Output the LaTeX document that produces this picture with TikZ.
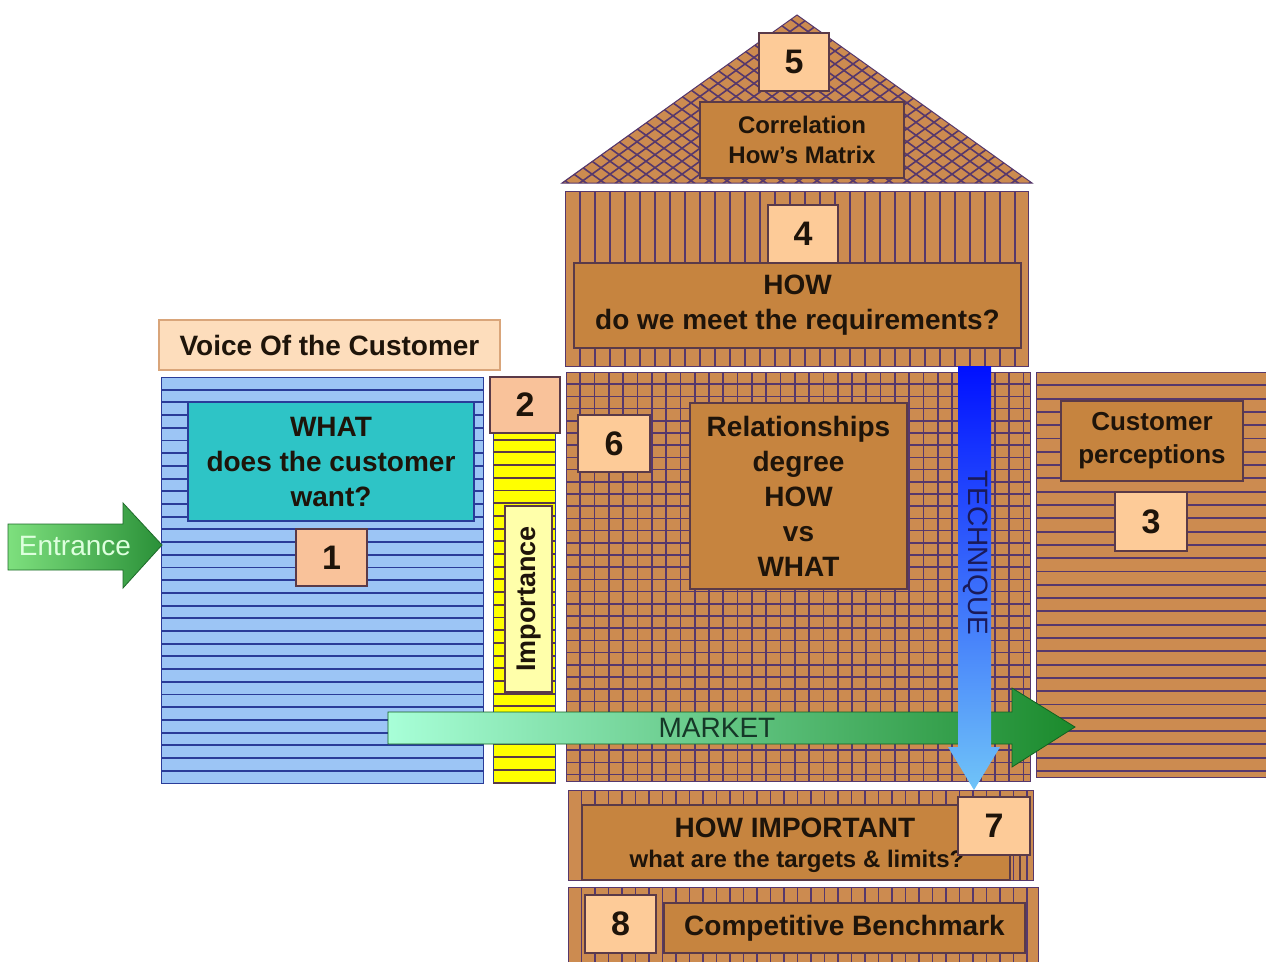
\documentclass[tikz,border=0pt]{standalone}
\usepackage{fontspec}
\setmainfont{Liberation Sans}
\definecolor{brn}{HTML}{CC8B50}
\definecolor{brnbx}{HTML}{C6843F}
\definecolor{pline}{HTML}{56386C}
\definecolor{boxline}{HTML}{5A3A48}
\definecolor{peach}{HTML}{FDCB98}
\definecolor{salmon}{HTML}{F9C29A}
\definecolor{vocfill}{HTML}{FDDDBC}
\definecolor{vocline}{HTML}{D9A57A}
\definecolor{bluef}{HTML}{9CC5F5}
\definecolor{bline}{HTML}{2A3C99}
\definecolor{tealf}{HTML}{2EC4C6}
\definecolor{yel}{HTML}{FFFF00}
\definecolor{ltyel}{HTML}{FFFFAA}
\definecolor{txt}{HTML}{1E140A}
\definecolor{entL}{HTML}{7EE07E}
\definecolor{entR}{HTML}{2A9038}
\definecolor{entD}{HTML}{1E6B2A}
\definecolor{entT}{HTML}{DDFFDD}
\definecolor{mkL}{HTML}{A8FFD8}
\definecolor{mkR}{HTML}{1B8A2C}
\definecolor{mkT}{HTML}{163828}
\definecolor{tcT}{HTML}{1A1A5A}
\definecolor{tcTop}{HTML}{0010FF}
\definecolor{tcBot}{HTML}{70C4F8}
\newcommand{\lblfont}{\fontsize{28}{35}\selectfont\bfseries}
\newcommand{\corrfont}{\fontsize{24}{30}\selectfont\bfseries}
\newcommand{\numfont}{\fontsize{34}{36}\selectfont\bfseries}
\newcommand{\arrfont}{\fontsize{28}{30}\selectfont}
\begin{document}
\begin{tikzpicture}[x=1pt,y=-1pt,
  block/.style={draw=pline, line width=1pt, fill=brn, inner sep=0pt},
  brnbox/.style={draw=boxline, line width=1.5pt, fill=brnbx, inner sep=0pt, align=center, font=\lblfont, text=txt},
  numbox/.style={draw=boxline, line width=1.2pt, fill=peach, inner sep=0pt, font=\numfont, text=txt},
  stripe/.style={draw=pline, line width=1.9pt},
  bstripe/.style={draw=bline, line width=1.9pt}]
\useasboundingbox (0,0) rectangle (1266,961);
\fill[white] (0,0) rectangle (1266,961);

% ---------- roof (5)
\fill[brn] (562,183) -- (797,15) -- (1032,183) -- cycle;
\begin{scope}
  \clip (562,183) -- (797,15) -- (1032,183) -- cycle;
  \foreach \c in {300,318,...,1040} \draw[stripe, line width=1.6pt] (\c,190) -- ++(320,-230.4);
  \foreach \c in {560,578,...,1300} \draw[stripe, line width=1.6pt] (\c,190) -- ++(-320,-230.4);
\end{scope}
\draw[pline, line width=1pt] (562,183) -- (797,15) -- (1032,183) -- cycle;
\node[numbox, minimum width=70, minimum height=58] (n5) at (794,62) {5};
\node[brnbox, minimum width=204, minimum height=76, font=\corrfont] (corr) at (802,140) {Correlation\\How's Matrix};

% ---------- HOW block (4)
\node[block, minimum width=463, minimum height=175] (howblk) at (796.5,278.5) {};
\begin{scope}
  \clip (565,191) rectangle (1028,366);
  \foreach \k in {1,...,31} \draw[stripe] ({565+\k*15},191) -- ({565+\k*15},366);
\end{scope}
\node[numbox, minimum width=70, minimum height=58] (n4) at (803,234) {4};
\node[brnbox, minimum width=447, minimum height=85] (how) at (797.5,305.5) {HOW\\do we meet the requirements?};

% ---------- Voice of the customer (1)
\node[draw=vocline, line width=1.2pt, fill=vocfill, minimum width=341, minimum height=50, font=\lblfont, text=txt] (voc) at (329.5,345) {Voice Of the Customer};
\node[draw=bline, line width=1pt, fill=bluef, minimum width=322, minimum height=406, inner sep=0pt] (whatblk) at (322,580) {};
\begin{scope}
  \clip (161,377) rectangle (483,783);
  \foreach \k in {1,...,31} \draw[bstripe] (161,{377+\k*12.7}) -- (483,{377+\k*12.7});
\end{scope}
\node[draw=bline, line width=1.2pt, fill=tealf, minimum width=286, minimum height=119, inner sep=0pt, align=center, font=\lblfont, text=txt] (what) at (331,461.5) {WHAT\\does the customer\\want?};
\node[numbox, fill=salmon, minimum width=71, minimum height=57] (n1) at (331.5,557.5) {1};

% ---------- Importance (2)
\node[draw=bline, line width=1pt, fill=yel, minimum width=62, minimum height=400, inner sep=0pt] (impblk) at (524,583) {};
\begin{scope}
  \clip (493,383) rectangle (555,783);
  \foreach \k in {1,...,31} \draw[draw=boxline, line width=1.9pt] (493,{433+\k*12.7-6}) -- (555,{433+\k*12.7-6});
\end{scope}
\node[numbox, fill=salmon, minimum width=70, minimum height=56] (n2) at (525,405) {2};
\node[draw=boxline, line width=1.2pt, fill=ltyel, minimum width=47, minimum height=186, inner sep=0pt] (impbox) at (528.5,599) {};
\node[rotate=90, font=\fontsize{27}{30}\selectfont\bfseries, text=txt] (imp) at (529,599) {Importance};

% ---------- Relationships grid (6)
\node[block, minimum width=464, minimum height=409] (grid) at (798,576.5) {};
\begin{scope}
  \clip (566,372) rectangle (1030,781);
  \foreach \k in {1,...,32} \draw[stripe, line width=1.7pt] ({566+\k*14.3},372) -- ({566+\k*14.3},781);
  \foreach \k in {1,...,33} \draw[stripe, line width=1.7pt] (566,{372+\k*12.2}) -- (1030,{372+\k*12.2});
\end{scope}
\node[numbox, minimum width=72, minimum height=57] (n6) at (614,443.5) {6};
\node[brnbox, minimum width=217, minimum height=186] (rel) at (798.5,496) {Relationships\\degree\\HOW\\vs\\WHAT};

% ---------- Customer perceptions (3)
\node[block, minimum width=230, minimum height=405] (perblk) at (1151,574.5) {};
\begin{scope}
  \clip (1036,372) rectangle (1266,777);
  \foreach \k in {1,...,30} \draw[stripe] (1036,{372+\k*13.3}) -- (1266,{372+\k*13.3});
\end{scope}
\node[brnbox, minimum width=182, minimum height=80, font=\fontsize{26}{33}\selectfont\bfseries] (perc) at (1152,441) {Customer\\perceptions};
\node[numbox, minimum width=72, minimum height=59] (n3) at (1151,521.5) {3};

% ---------- How important (7)
\node[block, minimum width=465, minimum height=90] (impblk7) at (800.5,835) {};
\begin{scope}
  \clip (568,790) rectangle (1033,880);
  \foreach \k in {1,...,34} \draw[stripe] ({568+\k*13.5},790) -- ({568+\k*13.5},880);
\end{scope}
\draw[boxline, line width=1.5pt] (1020,805) -- (1020,880);
\node[brnbox, minimum width=428, minimum height=75] (howimp) at (796,842.5) {};
\node[font=\fontsize{28}{30}\selectfont\bfseries, text=txt, inner sep=0pt] (howimptxt) at (795,828) {HOW IMPORTANT};
\node[font=\fontsize{24}{26}\selectfont\bfseries, text=txt, inner sep=0pt] (limtxt) at (797,861) {what are the targets \& limits?};
\node[numbox, minimum width=72, minimum height=58] (n7) at (994,826) {7};

% ---------- Competitive benchmark (8)
\node[block, minimum width=470, minimum height=80] (benchblk) at (803,927) {};
\begin{scope}
  \clip (568,887) rectangle (1038,967);
  \foreach \k in {1,...,34} \draw[stripe] ({568+\k*13.5},887) -- ({568+\k*13.5},967);
\end{scope}
\node[numbox, minimum width=71, minimum height=58] (n8) at (620.5,924) {8};
\node[brnbox, minimum width=361, minimum height=50] (bench) at (844.5,928) {Competitive Benchmark};

% ---------- Entrance arrow
\shadedraw[left color=entL, right color=entR, draw=entD, line width=0.8pt]
  (8,524) -- (123,524) -- (123,503) -- (162,545) -- (123,588) -- (123,570) -- (8,570) -- cycle;
\node[font=\arrfont, text=entT] (entr) at (75,546) {Entrance};

% ---------- Market arrow
\shadedraw[left color=mkL, right color=mkR, draw=mkR!70!black, line width=0.8pt]
  (388,712) -- (1012,712) -- (1012,688) -- (1075,727) -- (1012,767) -- (1012,744) -- (388,744) -- cycle;
\node[font=\arrfont, text=mkT] (mkt) at (717,728) {MARKET};

% ---------- Technique arrow
\shade[top color=tcTop, bottom color=tcBot]
  (958,366) -- (991,366) -- (991,747) -- (1000,747) -- (974,790) -- (948,747) -- (958,747) -- cycle;
\node[rotate=-90, font=\arrfont, text=tcT] (tech) at (976,553) {TECHNIQUE};
\end{tikzpicture}
\end{document}
